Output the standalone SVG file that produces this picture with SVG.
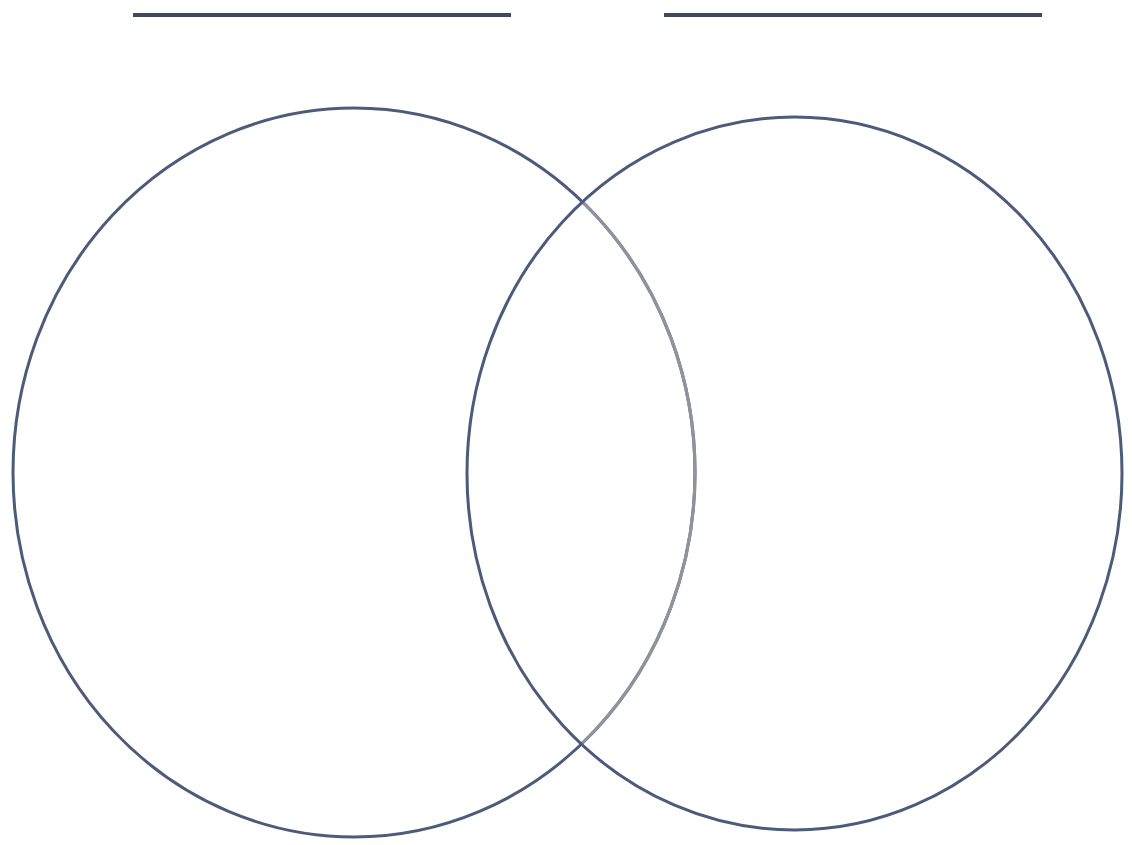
<svg xmlns="http://www.w3.org/2000/svg" width="1132" height="845" viewBox="0 0 1132 845">
<style>
.ln{stroke:#3f4a5e;stroke-width:4;stroke-linecap:butt}
.c{fill:none;stroke:#4d5b7a;stroke-width:3}
</style>
<defs>
<clipPath id="inR"><ellipse cx="794.5" cy="473.5" rx="326" ry="355"/></clipPath>
</defs>
<rect width="1132" height="845" fill="#ffffff"/>
<g id="title-lines">
<line class="ln" x1="133" y1="15" x2="511" y2="15"/>
<line class="ln" x1="664" y1="15" x2="1042" y2="15"/>
</g>
<g id="left-circle">
<ellipse class="c" cx="354" cy="472.5" rx="341" ry="364.5"/>
<ellipse cx="354" cy="472.5" rx="341" ry="364.5" fill="none" stroke="#8e939c" stroke-width="3.2" clip-path="url(#inR)"/>
</g>
<g id="right-circle">
<ellipse class="c" cx="794.5" cy="473.5" rx="327.5" ry="356.5"/>
</g>
<g id="connectors"/>
</svg>
